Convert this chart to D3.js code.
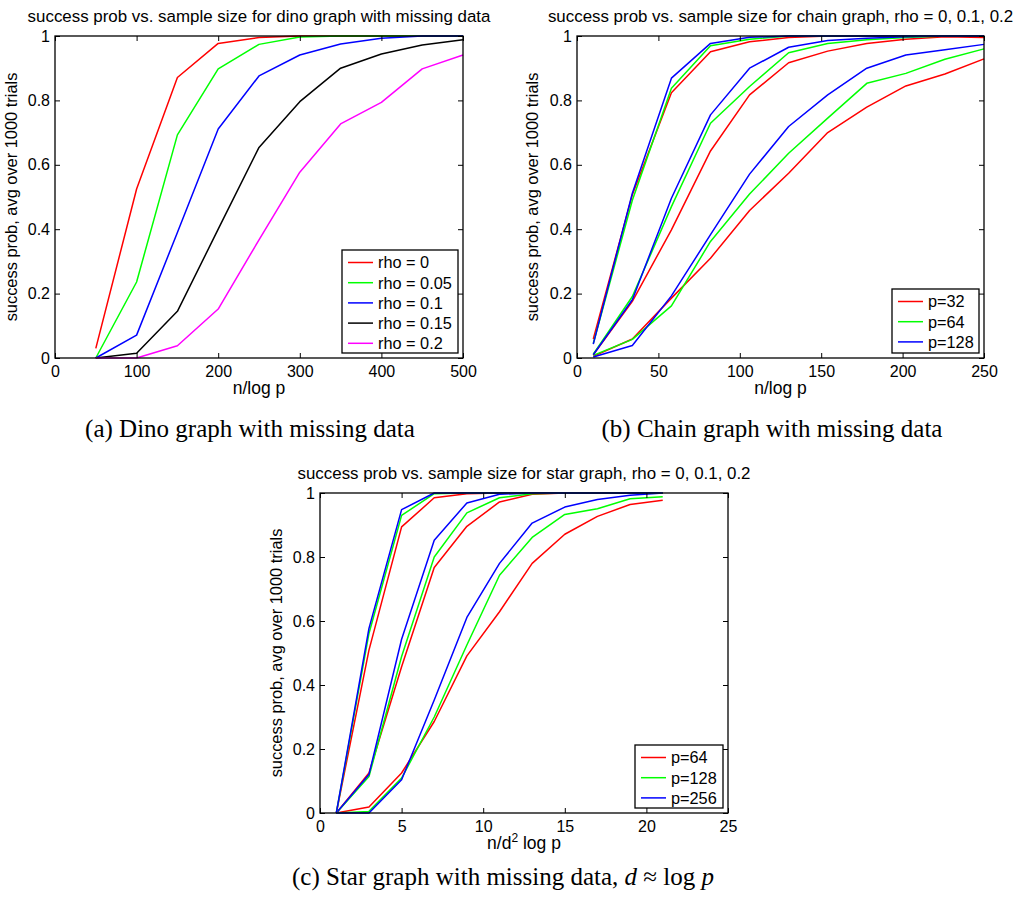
<!DOCTYPE html>
<html>
<head>
<meta charset="utf-8">
<script src="https://cdn.jsdelivr.net/npm/d3@7"></script>
<style>
  body { margin: 0; background: #fff; }
  svg text { font-family: "Liberation Sans", Arial, sans-serif; fill: #000; }
  .caption { font-family: "Liberation Serif", "Times New Roman", serif; font-size: 25px; }
</style>
</head>
<body>
<div id="chart"></div>
<script>
// ---- panel (a): dino graph, rho sweep ----
const dinoX = [50, 100, 150, 200, 250, 300, 350, 400, 450, 500];
const dinoRho0   = [0.03, 0.525, 0.871, 0.977, 0.995, 1, 1, 1, 1, 1];
const dinoRho005 = [0, 0.236, 0.693, 0.898, 0.974, 0.997, 1, 1, 1, 1];
const dinoRho01  = [0, 0.071, 0.39, 0.711, 0.876, 0.941, 0.975, 0.993, 1, 1];
const dinoRho015 = [0, 0.015, 0.145, 0.40, 0.654, 0.796, 0.90, 0.944, 0.972, 0.988];
const dinoRho02  = [0, 0, 0.038, 0.152, 0.367, 0.577, 0.727, 0.794, 0.898, 0.941];
const dinoLabels = ["rho = 0", "rho = 0.05", "rho = 0.1", "rho = 0.15", "rho = 0.2"];

// ---- panel (b): chain graph, three rho groups x three p ----
const chainX = [10, 34, 58, 82, 106, 130, 154, 178, 202, 226, 250];
// rho = 0
const chainP32a  = [0.059, 0.507, 0.824, 0.951, 0.982, 0.995, 1, 1, 1, 1, 1];
const chainP64a  = [0.045, 0.49, 0.838, 0.97, 0.99, 1, 1, 1, 1, 1, 1];
const chainP128a = [0.043, 0.512, 0.869, 0.977, 0.996, 1, 1, 1, 1, 1, 1];
// rho = 0.1
const chainP32b  = [0.01, 0.176, 0.398, 0.643, 0.817, 0.917, 0.953, 0.977, 0.99, 0.998, 0.995];
const chainP64b  = [0.012, 0.191, 0.47, 0.729, 0.843, 0.948, 0.977, 0.988, 0.995, 1, 1];
const chainP128b = [0.01, 0.181, 0.496, 0.755, 0.90, 0.965, 0.986, 0.993, 0.998, 1, 1];
// rho = 0.2
const chainP32c  = [0.005, 0.059, 0.186, 0.31, 0.458, 0.574, 0.70, 0.779, 0.845, 0.882, 0.929];
const chainP64c  = [0.008, 0.058, 0.162, 0.362, 0.509, 0.636, 0.745, 0.853, 0.884, 0.928, 0.96];
const chainP128c = [0.003, 0.039, 0.193, 0.383, 0.571, 0.719, 0.817, 0.90, 0.941, 0.957, 0.974];
const chainLabels = ["p=32", "p=64", "p=128"];

// ---- panel (c): star graph ----
const starX = [1, 3, 5, 7, 9, 11, 13, 15, 17, 19, 21];
const starP64a  = [0, 0.509, 0.894, 0.985, 0.998, 1, 1, 1, 1, 1, 1];
const starP128a = [0, 0.561, 0.93, 0.998, 1, 1, 1, 1, 1, 1, 1];
const starP256a = [0, 0.577, 0.948, 1, 1, 1, 1, 1, 1, 1, 1];
const starP64b  = [0, 0.125, 0.457, 0.767, 0.896, 0.972, 0.996, 1, 1, 1, 1];
const starP128b = [0, 0.114, 0.489, 0.80, 0.938, 0.985, 0.998, 1, 1, 1, 1];
const starP256b = [0, 0.12, 0.543, 0.852, 0.969, 0.996, 1, 1, 1, 1, 1];
const starP64c  = [0, 0.019, 0.125, 0.286, 0.491, 0.629, 0.78, 0.871, 0.927, 0.964, 0.977];
const starP128c = [0, 0.005, 0.109, 0.30, 0.525, 0.743, 0.861, 0.933, 0.951, 0.982, 0.988];
const starP256c = [0, 0, 0.104, 0.353, 0.611, 0.78, 0.906, 0.956, 0.980, 0.993, 1];
const starLabels = ["p=64", "p=128", "p=256"];

const yTicks = [0, 0.2, 0.4, 0.6, 0.8, 1];
const RED = "#ff0000", GREEN = "#00ff00", BLUE = "#0000ff", BLACK = "#000000", MAGENTA = "#ff00ff";

const svg = d3.select("#chart").append("svg")
  .attr("width", 1018)
  .attr("height", 904);

function drawPanel(opt) {
  const g = svg.append("g").attr("transform", "translate(" + opt.left + "," + opt.top + ")");
  const w = opt.width, h = opt.height;
  const x = d3.scaleLinear().domain(opt.xDomain).range([0, w]);
  const y = d3.scaleLinear().domain([0, 1]).range([h, 0]);

  // series first, box on top
  const line = d3.line().x((d, i) => x(opt.xs[i])).y(d => y(d));
  opt.series.forEach(s => {
    g.append("path")
      .attr("d", line(s.values))
      .attr("fill", "none")
      .attr("stroke", s.color)
      .attr("stroke-width", 1.5)
      .attr("stroke-linejoin", "round");
  });

  // inward ticks on all four sides, like matlab
  const tk = 5;
  g.append("g").attr("transform", "translate(0," + h + ")")
    .call(d3.axisBottom(x).tickValues(opt.xTicks).tickSize(-tk).tickPadding(8).tickFormat(d3.format("d")));
  g.append("g")
    .call(d3.axisTop(x).tickValues(opt.xTicks).tickSize(-tk).tickFormat(""));
  g.append("g")
    .call(d3.axisLeft(y).tickValues(yTicks).tickSize(-tk).tickPadding(5).tickFormat(d => d === 0 || d === 1 ? d : d3.format(".1f")(d)));
  g.append("g").attr("transform", "translate(" + w + ",0)")
    .call(d3.axisRight(y).tickValues(yTicks).tickSize(-tk).tickFormat(""));
  g.selectAll(".domain").remove();
  g.selectAll(".tick line").attr("stroke", "#000").attr("stroke-width", 1);
  g.selectAll(".tick text").attr("font-size", 16).attr("font-family", "Liberation Sans, Arial, sans-serif");

  g.append("rect")
    .attr("width", w).attr("height", h)
    .attr("fill", "none").attr("stroke", "#000").attr("stroke-width", 1.3);

  // title and axis labels
  g.append("text")
    .attr("x", w / 2).attr("y", -14)
    .attr("text-anchor", "middle")
    .attr("font-size", 16.9)
    .text(opt.title);

  const xl = g.append("text")
    .attr("x", w / 2).attr("y", h + 36)
    .attr("text-anchor", "middle")
    .attr("font-size", 17.5);
  opt.xLabel(xl);

  g.append("text")
    .attr("transform", "translate(" + opt.yLabelX + "," + (h / 2) + ") rotate(-90)")
    .attr("text-anchor", "middle")
    .attr("font-size", 16.4)
    .text("success prob, avg over 1000 trials");

  // legend
  const lg = g.append("g").attr("transform", "translate(" + (w - opt.legendW - 5) + "," + (h - opt.legendH - 5) + ")");
  lg.append("rect")
    .attr("width", opt.legendW).attr("height", opt.legendH)
    .attr("fill", "#fff").attr("stroke", "#000").attr("stroke-width", 1.3);
  opt.legend.forEach((d, i) => {
    const cy = 12.5 + i * 20.2;
    lg.append("line")
      .attr("x1", 6).attr("x2", 31).attr("y1", cy).attr("y2", cy)
      .attr("stroke", d.color).attr("stroke-width", 1.5);
    lg.append("text")
      .attr("x", 36).attr("y", cy)
      .attr("dy", "0.36em")
      .attr("font-size", 16.3)
      .text(d.label);
  });
}

drawPanel({
  left: 55, top: 36, width: 408, height: 322,
  xDomain: [0, 500], xTicks: [0, 100, 200, 300, 400, 500], xs: dinoX,
  title: "success prob vs. sample size for dino graph with missing data",
  xLabel: t => t.text("n/log p"),
  yLabelX: -38,
  series: [
    { values: dinoRho0, color: RED },
    { values: dinoRho005, color: GREEN },
    { values: dinoRho01, color: BLUE },
    { values: dinoRho015, color: BLACK },
    { values: dinoRho02, color: MAGENTA }
  ],
  legend: dinoLabels.map((l, i) => ({ label: l, color: [RED, GREEN, BLUE, BLACK, MAGENTA][i] })),
  legendW: 116, legendH: 103
});

drawPanel({
  left: 577, top: 36, width: 407, height: 322,
  xDomain: [0, 250], xTicks: [0, 50, 100, 150, 200, 250], xs: chainX,
  title: "success prob vs. sample size for chain graph, rho = 0, 0.1, 0.2",
  xLabel: t => t.text("n/log p"),
  yLabelX: -39,
  series: [
    { values: chainP32c, color: RED }, { values: chainP64c, color: GREEN }, { values: chainP128c, color: BLUE },
    { values: chainP32b, color: RED }, { values: chainP64b, color: GREEN }, { values: chainP128b, color: BLUE },
    { values: chainP32a, color: RED }, { values: chainP64a, color: GREEN }, { values: chainP128a, color: BLUE }
  ],
  legend: chainLabels.map((l, i) => ({ label: l, color: [RED, GREEN, BLUE][i] })),
  legendW: 87, legendH: 64
});

drawPanel({
  left: 320, top: 493, width: 408, height: 320,
  xDomain: [0, 25], xTicks: [0, 5, 10, 15, 20, 25], xs: starX,
  title: "success prob vs. sample size for star graph, rho = 0, 0.1, 0.2",
  xLabel: t => {
    t.append("tspan").text("n/d");
    t.append("tspan").attr("dy", -7).attr("font-size", 12).text("2");
    t.append("tspan").attr("dy", 7).text(" log p");
  },
  yLabelX: -38,
  series: [
    { values: starP64c, color: RED }, { values: starP128c, color: GREEN }, { values: starP256c, color: BLUE },
    { values: starP64b, color: RED }, { values: starP128b, color: GREEN }, { values: starP256b, color: BLUE },
    { values: starP64a, color: RED }, { values: starP128a, color: GREEN }, { values: starP256a, color: BLUE }
  ],
  legend: starLabels.map((l, i) => ({ label: l, color: [RED, GREEN, BLUE][i] })),
  legendW: 88, legendH: 63
});

// figure captions
svg.append("text").attr("class", "caption")
  .attr("x", 250).attr("y", 437).attr("text-anchor", "middle")
  .text("(a) Dino graph with missing data");
svg.append("text").attr("class", "caption")
  .attr("x", 772).attr("y", 437).attr("text-anchor", "middle")
  .text("(b) Chain graph with missing data");
const cap = svg.append("text").attr("class", "caption")
  .attr("x", 503).attr("y", 885).attr("text-anchor", "middle");
cap.append("tspan").text("(c) Star graph with missing data, ");
cap.append("tspan").attr("font-style", "italic").text("d");
cap.append("tspan").text(" ≈ log ");
cap.append("tspan").attr("font-style", "italic").text("p");
</script>
</body>
</html>
